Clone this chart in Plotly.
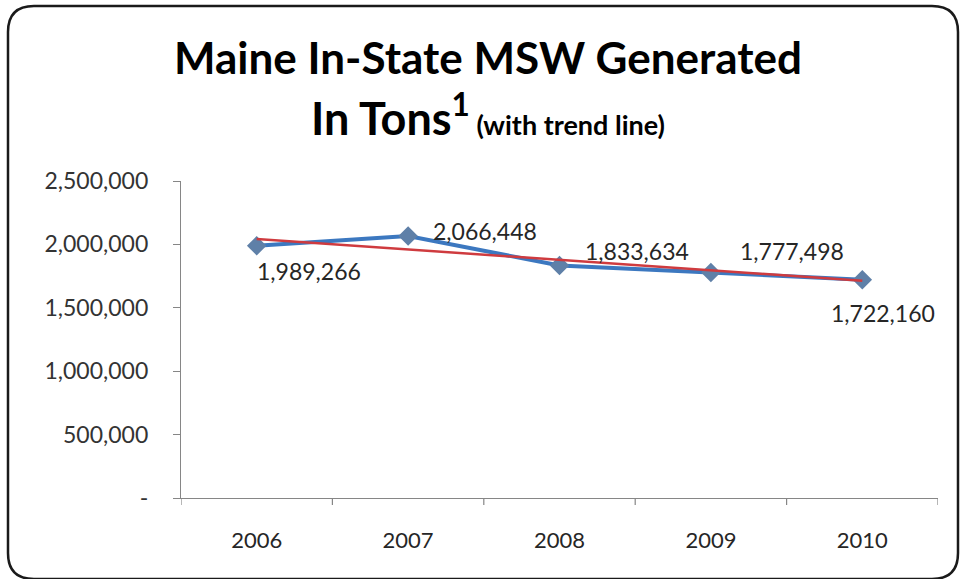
import numpy as np
import plotly.graph_objects as go

# Maine in-state municipal solid waste generated, tons per year
years = ["2006", "2007", "2008", "2009", "2010"]
tons = [1989266, 2066448, 1833634, 1777498, 1722160]

y_tick_vals = [0, 500000, 1000000, 1500000, 2000000, 2500000]
y_tick_text = ["-", "500,000", "1,000,000", "1,500,000", "2,000,000", "2,500,000"]

# label placement for each point: (xanchor, xshift, yshift)
label_pos = [
    ("left", -2, -25),
    ("left", 23, 5),
    ("left", 23, 15),
    ("left", 27, 22),
    ("center", 21, -33),
]

W, H = 960, 579
L, R, T, B = 181, 22, 181, 81

FONT = "Lato"

idx = np.arange(len(years))
slope, intercept = np.polyfit(idx, tons, 1)
trend = slope * idx + intercept

fig = go.Figure()
fig.add_trace(go.Scatter(
    x=idx, y=tons, mode="lines+markers",
    line=dict(color="#3C78C0", width=4),
    marker=dict(symbol="diamond", size=15, color="#5F80A8"),
    hoverinfo="skip", showlegend=False,
))
fig.add_trace(go.Scatter(
    x=[idx[0], idx[-1]], y=[trend[0], trend[-1]], mode="lines",
    line=dict(color="#CF3B3F", width=2.5),
    hoverinfo="skip", showlegend=False,
))

annotations = []
for i, v in enumerate(tons):
    xa, xs, ys = label_pos[i]
    annotations.append(dict(
        x=i, y=v, text=f"{v:,}", showarrow=False,
        xanchor=xa, yanchor="middle", xshift=xs, yshift=ys,
        font=dict(family=FONT, size=23, color="#262626"),
    ))

# title lines, centred over the chart
pw = W - L - R
ph = H - T - B
cx = (488 - L) / pw
annotations.append(dict(
    xref="paper", yref="paper", x=cx, y=(H - 57 - B) / ph,
    text="<b>Maine In-State MSW Generated</b>", showarrow=False,
    xanchor="center", yanchor="middle",
    font=dict(family=FONT, size=44, color="#000000"),
))
annotations.append(dict(
    xref="paper", yref="paper", x=cx, y=(H - 115 - B) / ph,
    text="<b>In Tons<sup>1</sup><span style='font-size:27px'> (with trend line)</span></b>",
    showarrow=False, xanchor="center", yanchor="middle",
    font=dict(family=FONT, size=45, color="#000000"),
))

# rounded outer frame
def px_to_paper(x, y):
    return (x - L) / pw, (H - B - y) / ph

x0, y0, x1, y1, r = 8, 6, 958, 579, 26

def P(x, y):
    a, b = px_to_paper(x, y)
    return f"{a:.5f},{b:.5f}"

path = (
    f"M {P(x0 + r, y0)} L {P(x1 - r, y0)} Q {P(x1, y0)} {P(x1, y0 + r)} "
    f"L {P(x1, y1 - r)} Q {P(x1, y1)} {P(x1 - r, y1)} "
    f"L {P(x0 + r, y1)} Q {P(x0, y1)} {P(x0, y1 - r)} "
    f"L {P(x0, y0 + r)} Q {P(x0, y0)} {P(x0 + r, y0)} Z"
)

fig.update_layout(
    width=W, height=H,
    margin=dict(l=L, r=R, t=T, b=B),
    paper_bgcolor="white", plot_bgcolor="white",
    annotations=annotations,
    shapes=[dict(type="path", xref="paper", yref="paper", path=path,
                 line=dict(color="#1a1a1a", width=2.5), layer="above")],
    xaxis=dict(
        range=[-0.5, len(years) - 0.5],
        tickvals=list(idx), ticktext=years,
        showgrid=False, zeroline=False,
        showline=True, linecolor="#868686", linewidth=1.2,
        ticks="",
        tickfont=dict(family=FONT, size=22, color="#262626"),
        ticklabelstandoff=22,
    ),
    yaxis=dict(
        range=[0, 2500000],
        tickvals=y_tick_vals, ticktext=y_tick_text,
        showgrid=False, zeroline=False,
        showline=True, linecolor="#868686", linewidth=1.2,
        ticks="outside", ticklen=7, tickcolor="#868686",
        tickfont=dict(family=FONT, size=23, color="#333333"),
        ticklabelstandoff=20,
    ),
)

# category boundary ticks on the x axis
for b in np.arange(-0.5, len(years), 1.0):
    fig.add_shape(type="line", xref="x", yref="paper", x0=b, x1=b, y0=0,
                  y1=-7 / ph, line=dict(color="#868686", width=1.2))

fig.write_html("out.html")
